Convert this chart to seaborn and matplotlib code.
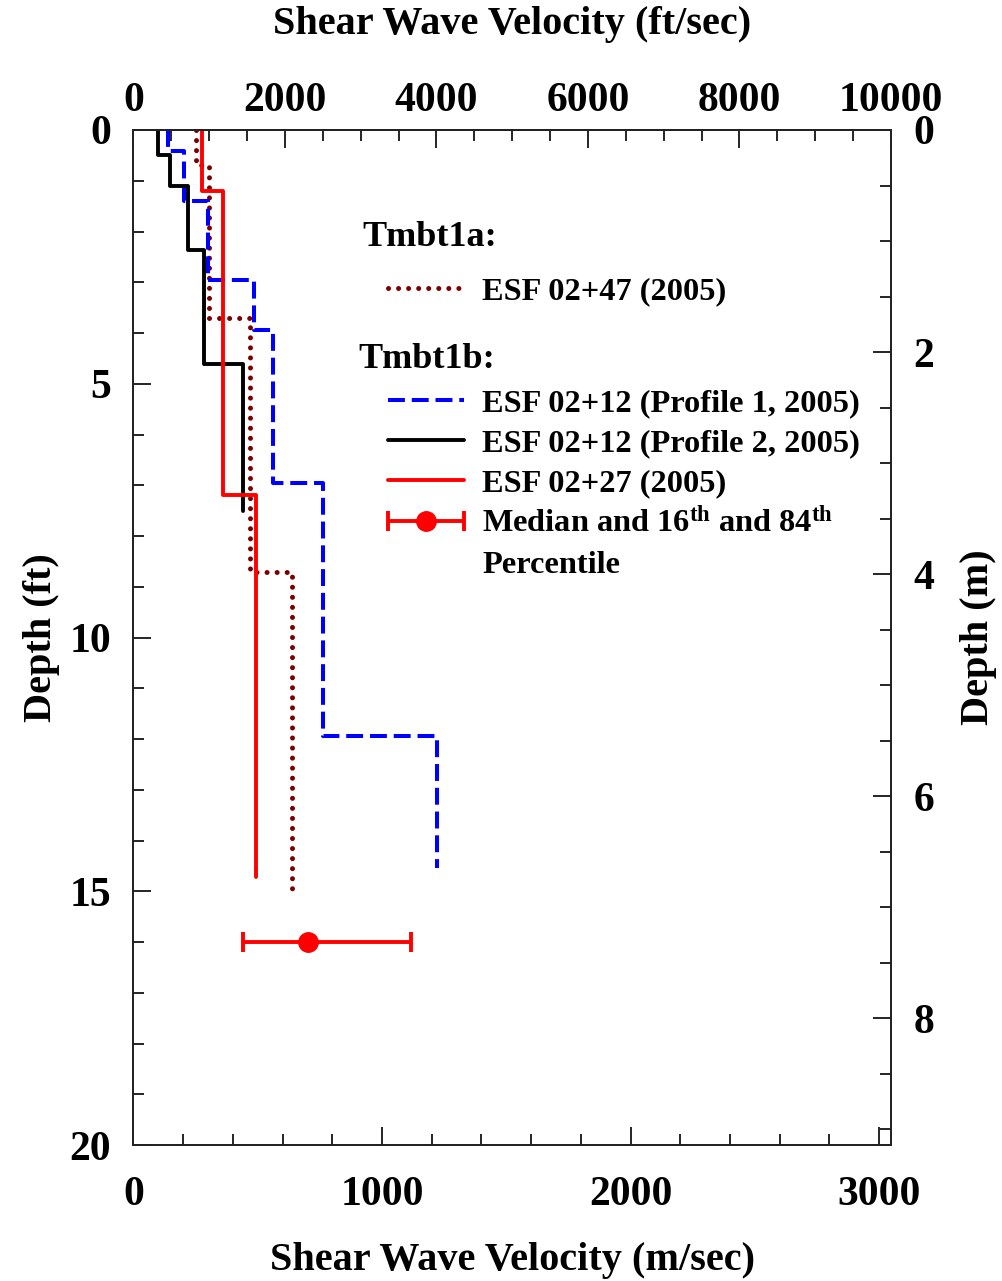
import numpy as np
import pandas as pd
import seaborn as sns
import matplotlib
matplotlib.use("Agg")
import matplotlib.pyplot as plt
from matplotlib.ticker import MultipleLocator
from matplotlib.lines import Line2D
from matplotlib.legend_handler import HandlerErrorbar

# ---------------- data (velocity in m/sec, layer bottom depth in ft) ----------------
esf0247_vel = [250, 302, 469, 636]
esf0247_bot = [0.68, 3.71, 8.71, 15.0]

esf0212_p1_vel = [140, 204, 301, 486, 563, 761, 1220]
esf0212_p1_bot = [0.41, 1.40, 2.96, 3.94, 6.95, 11.95, 14.55]

esf0212_p2_vel = [97, 147, 218, 284, 441]
esf0212_p2_bot = [0.49, 1.10, 2.36, 4.62, 7.50]

esf0227_vel = [274, 362, 493]
esf0227_bot = [1.20, 7.19, 14.71]

median_vel = [701]
p16_vel = [442]
p84_vel = [1117]
median_depth = [16.0]

bottom_ticks = [0, 1000, 2000, 3000]
top_ticks = [0, 2000, 4000, 6000, 8000, 10000]
left_ticks = [0, 5, 10, 15, 20]
right_ticks = [0, 2, 4, 6, 8]

labels = ["ESF 02+47 (2005)", "ESF 02+12 (Profile 1, 2005)",
          "ESF 02+12 (Profile 2, 2005)", "ESF 02+27 (2005)"]
median_label = "Median and 16$^{\\mathrm{th}}$ and 84$^{\\mathrm{th}}$"

# ---------------- style ----------------
sns.set_theme(style="white")
plt.rcParams["font.family"] = ["Liberation Serif", "DejaVu Serif"]
plt.rcParams["font.weight"] = "bold"
plt.rcParams["axes.labelweight"] = "bold"
plt.rcParams["text.color"] = "black"
plt.rcParams["axes.labelcolor"] = "black"
plt.rcParams["xtick.color"] = "black"
plt.rcParams["ytick.color"] = "black"
plt.rcParams["mathtext.fontset"] = "custom"
plt.rcParams["mathtext.rm"] = "Liberation Serif"
plt.rcParams["mathtext.it"] = "Liberation Serif:italic"
plt.rcParams["mathtext.bf"] = "Liberation Serif:bold"

TICK_FS = 30
LAB_FS = 29
LEG_FS = 23.3

W, H = 1003, 1281
fig = plt.figure(figsize=(W / 100, H / 100), dpi=100)
L, R, T, B = 133.5, 891, 130, 1145
ax = fig.add_axes([L / W, 1 - B / H, (R - L) / W, (B - T) / H])


def steps(vel, bot):
    xs, ys, top = [], [], 0.0
    for v, b in zip(vel, bot):
        xs += [v, v]
        ys += [top, b]
        top = b
    return xs, ys


DOT = dict(color="#7b0000", lw=3.6, linestyle=(0, (0.01, 2.0)), dash_capstyle="round")
DASH = dict(color="#0000ff", lw=2.9, linestyle=(0, (4.2, 1.7)))
BLK = dict(color="black", lw=2.8)
RED = dict(color="#ff0000", lw=2.8)

x, y = steps(esf0247_vel, esf0247_bot)
sns.lineplot(x=x, y=y, sort=False, estimator=None, ax=ax, **DOT)
x, y = steps(esf0212_p1_vel, esf0212_p1_bot)
sns.lineplot(x=x, y=y, sort=False, estimator=None, ax=ax, **DASH)
x, y = steps(esf0212_p2_vel, esf0212_p2_bot)
sns.lineplot(x=x, y=y, sort=False, estimator=None, ax=ax, **BLK)
x, y = steps(esf0227_vel, esf0227_bot)
sns.lineplot(x=x, y=y, sort=False, estimator=None, ax=ax, **RED)

xerr = [[median_vel[0] - p16_vel[0]], [p84_vel[0] - median_vel[0]]]
eb = ax.errorbar(median_vel, median_depth, xerr=xerr, fmt="o", color="#ff0000",
                 ms=14, lw=2.8, capsize=7, capthick=2.8)

ax.set_xlim(0, 3048)
ax.set_ylim(20, 0)

for s in ax.spines.values():
    s.set_color("black")
    s.set_linewidth(1.3)

ax.set_xticks(bottom_ticks)
ax.xaxis.set_minor_locator(MultipleLocator(200))
ax.set_yticks(left_ticks)
ax.yaxis.set_minor_locator(MultipleLocator(1))
ax.tick_params(which="both", direction="in", top=False, right=False,
               left=True, bottom=True, color="black", width=1.2)
ax.tick_params(which="major", length=13, labelsize=TICK_FS)
ax.tick_params(axis="x", which="major", pad=22)
ax.tick_params(axis="y", which="major", pad=16)
ax.tick_params(which="minor", length=8)

# top axis in ft/sec
secx = ax.secondary_xaxis("top", functions=(lambda v: v / 0.3048, lambda v: v * 0.3048))
secx.set_xticks(top_ticks)
secx.xaxis.set_minor_locator(MultipleLocator(500))
secx.tick_params(which="both", direction="in", color="black", width=1.2)
secx.tick_params(which="major", length=13, labelsize=TICK_FS, pad=7)
secx.tick_params(which="minor", length=8)
secx.spines["top"].set_linewidth(1.3)
secx.set_xlabel("Shear Wave Velocity (ft/sec)", fontsize=LAB_FS, fontweight="bold")
secx.xaxis.set_label_coords(0.4997, 1.1035, transform=ax.transAxes)
secx.xaxis.label.set_verticalalignment("center")

# right axis in m (as in original)
ax2 = ax.twinx()
ax2.set_ylim(9.144, 0)
ax2.set_yticks(right_ticks)
ax2.yaxis.set_minor_locator(MultipleLocator(0.5))
ax2.tick_params(which="both", direction="in", color="black", width=1.2,
                right=True, left=False)
ax2.tick_params(which="major", length=13, labelsize=TICK_FS, pad=16)
ax2.tick_params(which="minor", length=8)
for s in ax2.spines.values():
    s.set_linewidth(1.3)
ax2.set_ylabel("Depth (m)", fontsize=LAB_FS, fontweight="bold")
ax2.yaxis.set_label_coords(1.1149, 0.5)
ax2.yaxis.label.set_verticalalignment("center")
ax2.grid(False)
ax.grid(False)

ax.set_xlabel("Shear Wave Velocity (m/sec)", fontsize=LAB_FS, fontweight="bold")
ax.xaxis.set_label_coords(0.4997, -0.1142)
ax.xaxis.label.set_verticalalignment("center")
ax.set_ylabel("Depth (ft)", fontsize=LAB_FS, fontweight="bold")
ax.yaxis.set_label_coords(-0.1208, 0.5)
ax.yaxis.label.set_verticalalignment("center")

for lab in ax.get_xticklabels() + ax.get_yticklabels() + ax2.get_yticklabels() + secx.get_xticklabels():
    lab.set_fontweight("bold")

# ---------------- legend ----------------
h0 = Line2D([], [], **DOT)
h1 = Line2D([], [], **DASH)
h2 = Line2D([], [], **BLK)
h3 = Line2D([], [], **RED)

legkw = dict(frameon=False, handlelength=2.35, handletextpad=0.55,
             borderpad=0, borderaxespad=0, labelspacing=0.31, loc="upper left",
             bbox_transform=fig.transFigure, prop={"weight": "bold", "size": LEG_FS})
leg1 = ax2.legend([h0], [labels[0]], bbox_to_anchor=(388 / W, 1 - 277 / H), **legkw)
ax2.add_artist(leg1)
leg2 = ax2.legend([h1, h2, h3, eb], [labels[1], labels[2], labels[3], median_label],
                  bbox_to_anchor=(388 / W, 1 - 389 / H),
                  handler_map={type(eb): HandlerErrorbar(xerr_size=1.17)}, **legkw)

fig.text(362 / W, 1 - 238 / H, "Tmbt1a:", fontsize=26, fontweight="bold", va="center", ha="left")
fig.text(358 / W, 1 - 360 / H, "Tmbt1b:", fontsize=26, fontweight="bold", va="center", ha="left")
fig.text(482 / W, 1 - 565 / H, "Percentile", fontsize=LEG_FS, fontweight="bold", va="center", ha="left")

fig.savefig("out.png", dpi=100)
